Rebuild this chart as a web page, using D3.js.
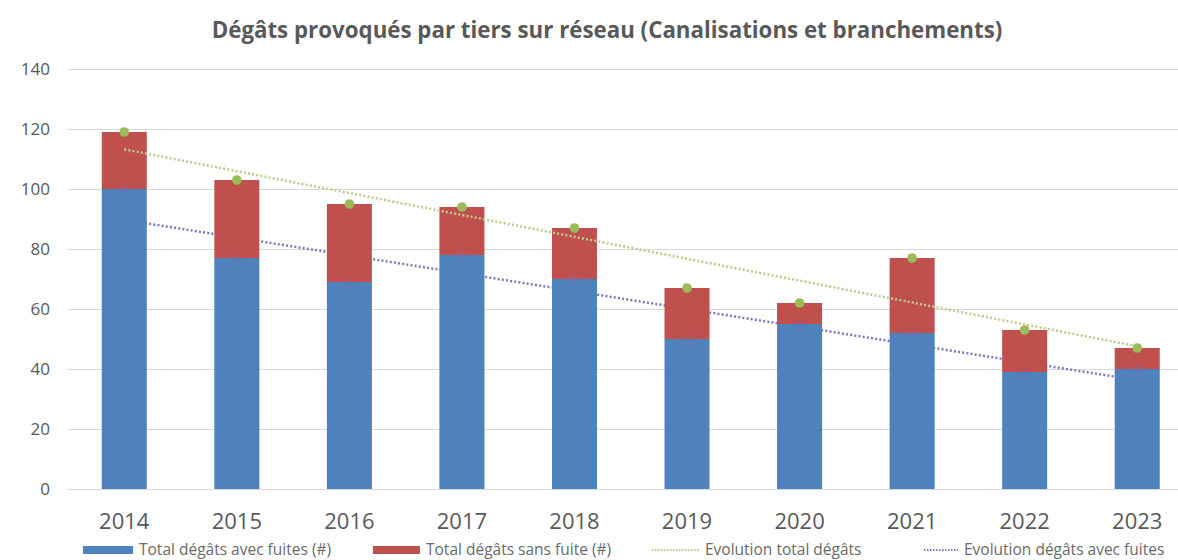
<!DOCTYPE html>
<html>
<head>
<meta charset="utf-8">
<script src="https://cdn.jsdelivr.net/npm/d3@7"></script>
<style>
  body { margin: 0; background: #fff; }
  text { font-family: "Open Sans", sans-serif; fill: #595959; }
</style>
</head>
<body>
<script>
// Dégâts provoqués par tiers - barres empilées + tendances linéaires

var years = ["2014", "2015", "2016", "2017", "2018", "2019", "2020", "2021", "2022", "2023"];
var avecFuites = [100, 77, 69, 78, 70, 50, 55, 52, 39, 40];
var sansFuite = [19, 26, 26, 16, 17, 17, 7, 25, 14, 7];
var yTicks = [0, 20, 40, 60, 80, 100, 120, 140];
var seriesNames = ["Total dégâts avec fuites (#)", "Total dégâts sans fuite (#)",
                   "Evolution total dégâts", "Evolution dégâts avec fuites"];

var width = 1178, height = 560;
var margin = {top: 69, bottom: 71, left: 68};

var blue = "#4f81bd", red = "#c0504d", green = "#9bbb59", purple = "#8064a2";
var greenTrend = "#b9cc8a", purpleTrend = "#7c78c0";

var totals = years.map(function(d, i) { return avecFuites[i] + sansFuite[i]; });

// linear trend (least squares), like the spreadsheet trendline
function trend(vals) {
  var n = vals.length, mx = (n - 1) / 2, my = d3.mean(vals);
  var sxy = 0, sxx = 0;
  vals.forEach(function(v, i) { sxy += (i - mx) * (v - my); sxx += (i - mx) * (i - mx); });
  var b = sxy / sxx, a = my - b * mx;
  return vals.map(function(v, i) { return a + b * i; });
}

var svg = d3.select("body").append("svg")
    .attr("width", width)
    .attr("height", height);

// plot area runs a little past the right border of the picture
var x = d3.scaleBand()
    .domain(years)
    .range([margin.left, 1193.5])
    .paddingInner(0.6)
    .paddingOuter(0.3);

var y = d3.scaleLinear()
    .domain([0, 140])
    .range([height - margin.bottom, margin.top]);

svg.append("text")
    .attr("x", 607)
    .attr("y", 38)
    .attr("text-anchor", "middle")
    .style("font-size", "22.3px")
    .style("font-weight", "bold")
    .text("Dégâts provoqués par tiers sur réseau (Canalisations et branchements)");

// grid
svg.append("g")
  .selectAll("line")
  .data(yTicks)
  .enter().append("line")
    .attr("x1", margin.left)
    .attr("x2", width)
    .attr("y1", function(d) { return Math.round(y(d)) + 0.5; })
    .attr("y2", function(d) { return Math.round(y(d)) + 0.5; })
    .attr("stroke", "#d9d9d9")
    .attr("stroke-width", 1);

var yAxis = d3.axisLeft(y).tickValues(yTicks).tickSize(0).tickPadding(0);
svg.append("g")
    .attr("transform", "translate(50,0)")
    .call(yAxis)
    .call(function(g) { g.select(".domain").remove(); })
    .selectAll("text")
    .style("font-size", "17px")
    .style("fill", "#595959");

var xAxis = d3.axisBottom(x).tickSize(0).tickPadding(0);
svg.append("g")
    .attr("transform", "translate(0," + (y(0) + 40) + ")")
    .call(xAxis)
    .call(function(g) { g.select(".domain").remove(); })
    .selectAll("text")
    .attr("dy", 0)
    .style("font-size", "22px")
    .style("fill", "#595959");

var cx = function(d, i) { return x(years[i]) + x.bandwidth() / 2; };

var line = d3.line()
    .x(function(d, i) { return x(years[i]) + x.bandwidth() / 2; })
    .y(function(d) { return y(d); });

// purple trend sits behind the bars
svg.append("path")
    .datum(trend(avecFuites))
    .attr("fill", "none")
    .attr("stroke", purpleTrend)
    .attr("stroke-width", 2.5)
    .attr("stroke-dasharray", "2,2.2")
    .attr("d", line);

svg.append("g")
  .selectAll("rect")
  .data(avecFuites)
  .enter().append("rect")
    .attr("x", function(d, i) { return x(years[i]); })
    .attr("width", x.bandwidth())
    .attr("y", function(d) { return y(d); })
    .attr("height", function(d) { return y(0) - y(d); })
    .attr("fill", blue);

svg.append("g")
  .selectAll("rect")
  .data(sansFuite)
  .enter().append("rect")
    .attr("x", function(d, i) { return x(years[i]); })
    .attr("width", x.bandwidth())
    .attr("y", function(d, i) { return y(totals[i]); })
    .attr("height", function(d) { return y(0) - y(d); })
    .attr("fill", red);

// faint purple markers on the blue tops
svg.append("g")
  .selectAll("circle")
  .data(avecFuites)
  .enter().append("circle")
    .attr("cx", cx)
    .attr("cy", function(d) { return y(d); })
    .attr("r", 4.5)
    .attr("fill", purple)
    .attr("opacity", 0.25);

svg.append("path")
    .datum(trend(totals))
    .attr("fill", "none")
    .attr("stroke", greenTrend)
    .attr("stroke-width", 2.5)
    .attr("stroke-dasharray", "2,2.2")
    .attr("d", line);

svg.append("g")
  .selectAll("circle")
  .data(totals)
  .enter().append("circle")
    .attr("cx", cx)
    .attr("cy", function(d) { return y(d); })
    .attr("r", 4.8)
    .attr("fill", green);

// legend
var legendX = [83, 373, 652, 924];
var legendW = [50, 47, 47, 34];
var ly = 550;
var legend = svg.append("g");
seriesNames.forEach(function(name, i) {
  var g = legend.append("g").attr("transform", "translate(" + legendX[i] + "," + ly + ")");
  if (i < 2) {
    g.append("rect")
      .attr("x", 0).attr("y", -4)
      .attr("width", legendW[i]).attr("height", 8)
      .attr("fill", i == 0 ? blue : red);
  } else {
    g.append("line")
      .attr("x1", 0).attr("x2", legendW[i])
      .attr("y1", 0).attr("y2", 0)
      .attr("stroke", i == 2 ? greenTrend : purpleTrend)
      .attr("stroke-width", 2)
      .attr("stroke-dasharray", "1.5,1.5");
  }
  g.append("text")
    .attr("x", legendW[i] + 6)
    .attr("y", 5)
    .style("font-size", "15.5px")
    .style("fill", "#6a6a6a")
    .text(name);
});
</script>
</body>
</html>
